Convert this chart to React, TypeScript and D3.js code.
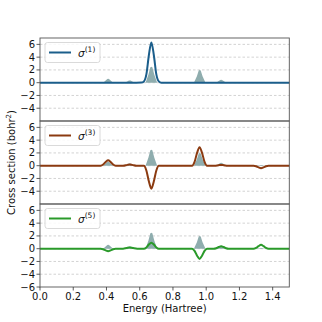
import * as d3 from 'd3'

// axis ticks
const xTicks = [0, 0.2, 0.4, 0.6, 0.8, 1.0, 1.2, 1.4]
const yTicks = [-6, -4, -2, 0, 2, 4, 6]

// reference spectrum (shaded), same in every panel
const refPoints: [number, number][] = [
  [0.0, 0],
  [0.38, 0], [0.395, 0.35], [0.405, 0.57], [0.41, 0.6], [0.415, 0.57], [0.425, 0.35], [0.44, 0],
  [0.51, 0], [0.525, 0.2], [0.535, 0.33], [0.54, 0.35], [0.545, 0.33], [0.555, 0.2], [0.57, 0],
  [0.635, 0], [0.652, 1.25], [0.664, 2.4], [0.67, 2.5], [0.676, 2.4], [0.688, 1.25], [0.705, 0],
  [0.926, 0], [0.944, 1.0], [0.955, 1.9], [0.961, 2.0], [0.967, 1.9], [0.978, 1.0], [0.996, 0],
  [1.06, 0], [1.075, 0.25], [1.085, 0.42], [1.09, 0.45], [1.095, 0.42], [1.105, 0.25], [1.12, 0],
  [1.3, 0], [1.33, 0.1], [1.36, 0],
  [1.5, 0],
]

const sigma1Points: [number, number][] = [
  [0.0, 0], [0.58, 0], [0.61, 0.02], [0.625, 0.2], [0.64, 1.3], [0.655, 4.3], [0.67, 6.3],
  [0.685, 4.3], [0.7, 1.3], [0.715, 0.2], [0.73, 0], [1.5, 0],
]

const sigma3Points: [number, number][] = [
  [0.0, 0], [0.365, 0], [0.38, 0.18], [0.395, 0.58], [0.41, 0.85], [0.425, 0.58], [0.44, 0.18], [0.455, 0],
  [0.5, 0], [0.525, 0.13], [0.54, 0.2], [0.555, 0.13], [0.58, 0],
  [0.625, 0], [0.64, -0.75], [0.655, -2.45], [0.67, -3.6], [0.685, -2.45], [0.7, -0.75], [0.715, 0],
  [0.915, 0], [0.93, 0.6], [0.945, 2.0], [0.96, 2.9], [0.975, 2.0], [0.99, 0.6], [1.005, 0],
  [1.05, 0], [1.075, 0.08], [1.09, 0.12], [1.105, 0.08], [1.13, 0],
  [1.285, 0], [1.3, -0.08], [1.315, -0.27], [1.33, -0.4], [1.345, -0.27], [1.36, -0.08], [1.375, 0],
  [1.5, 0],
]

const sigma5Points: [number, number][] = [
  [0.0, 0], [0.365, 0], [0.38, -0.08], [0.395, -0.27], [0.41, -0.4], [0.425, -0.27], [0.44, -0.08], [0.455, 0],
  [0.5, 0], [0.52, 0.1], [0.54, 0.2], [0.56, 0.1], [0.585, 0],
  [0.625, 0], [0.64, 0.2], [0.655, 0.65], [0.67, 0.95], [0.685, 0.65], [0.7, 0.2], [0.715, 0],
  [0.915, 0], [0.93, -0.33], [0.945, -1.1], [0.96, -1.6], [0.975, -1.1], [0.99, -0.33], [1.005, 0],
  [1.045, 0], [1.06, 0.07], [1.075, 0.26], [1.09, 0.38], [1.105, 0.26], [1.12, 0.07], [1.135, 0],
  [1.285, 0], [1.3, 0.12], [1.315, 0.4], [1.33, 0.6], [1.345, 0.4], [1.36, 0.12], [1.375, 0],
  [1.5, 0],
]

const seriesOrders = ['1', '3', '5']
const seriesColors = ['#1b5e8b', '#8b3a10', '#2a9a2a']
const seriesData = [sigma1Points, sigma3Points, sigma5Points]

const W = 322
const H = 322
const left = 40
const right = 289.3
const top = 38
const panelH = 83

export default function App() {
  const x = d3.scaleLinear().domain([0, 1.5]).range([left, right])
  const font = 'DejaVu Sans, sans-serif'

  return (
    <svg width={W} height={H} style={{ position: 'absolute', left: 0, top: 0, background: '#fff' }} fontFamily={font}>
      {seriesData.map((pts, i) => {
        const y0 = top + i * panelH
        const y = d3.scaleLinear().domain([-6, 7]).range([y0 + panelH, y0])
        const area = d3.area<[number, number]>().x(d => x(d[0])).y0(y(0)).y1(d => y(d[1]))
        const line = d3.line<[number, number]>().x(d => x(d[0])).y(d => y(d[1])).curve(d3.curveMonotoneX)
        const ticks = i === 2 ? yTicks : yTicks.filter(t => t > -6)
        return (
          <g key={i}>
            {yTicks.filter(t => t > -6).map(t => (
              <line key={t} x1={left} x2={right} y1={y(t)} y2={y(t)} stroke="#c8c8c8" strokeWidth={0.8} strokeDasharray="2.5,2" />
            ))}
            <path d={area(refPoints) || ''} fill="#8fadae" />
            <path d={line(pts) || ''} fill="none" stroke={seriesColors[i]} strokeWidth={2} />
            {ticks.map(t => (
              <g key={t}>
                <line x1={left - 3.5} x2={left} y1={y(t)} y2={y(t)} stroke="#333" strokeWidth={0.8} />
                <text x={left - 5} y={y(t)} dy="0.35em" textAnchor="end" fontSize={10} fill="#111">
                  {t < 0 ? '\u2212' + Math.abs(t) : t}
                </text>
              </g>
            ))}
            <rect x={left} y={y0} width={right - left} height={panelH} fill="none" stroke="#555" strokeWidth={0.9} />
            {/* legend */}
            <rect x={45} y={y0 + 4.5} width={55} height={20} rx={2.5} fill="#fff" fillOpacity={0.85} stroke="#d0d0d0" strokeWidth={0.8} />
            <line x1={49} x2={71} y1={y0 + 14.5} y2={y0 + 14.5} stroke={seriesColors[i]} strokeWidth={2} />
            <text x={78} y={y0 + 18.5} fontSize={10.5} fill="#111">
              <tspan fontStyle="italic">σ</tspan>
              <tspan dy={-4.5} fontSize={7.5}>({seriesOrders[i]})</tspan>
            </text>
          </g>
        )
      })}
      {xTicks.map(t => (
        <g key={t}>
          <line x1={x(t)} x2={x(t)} y1={top + 3 * panelH} y2={top + 3 * panelH + 3.5} stroke="#333" strokeWidth={0.8} />
          <text x={x(t)} y={top + 3 * panelH + 13} textAnchor="middle" fontSize={10} fill="#111">
            {t.toFixed(1)}
          </text>
        </g>
      ))}
      <text x={(left + right) / 2} y={312} textAnchor="middle" fontSize={10} fill="#111">Energy (Hartree)</text>
      <text transform={`translate(15,${top + 1.5 * panelH}) rotate(-90)`} textAnchor="middle" fontSize={10} fill="#111">
        Cross section (bohr<tspan dy={-4} fontSize={7}>2</tspan><tspan dy={4}>)</tspan>
      </text>
    </svg>
  )
}
